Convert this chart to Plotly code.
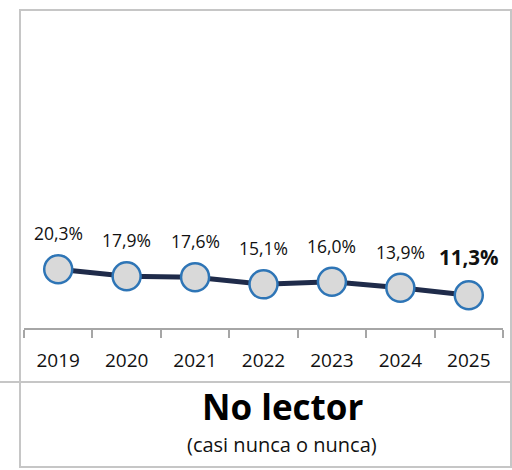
import plotly.graph_objects as go

years = ["2019", "2020", "2021", "2022", "2023", "2024", "2025"]
values = [20.3, 17.9, 17.6, 15.1, 16.0, 13.9, 11.3]
labels = ["20,3%", "17,9%", "17,6%", "15,1%", "16,0%", "13,9%", "11,3%"]
title_text = "No lector"
subtitle_text = "(casi nunca o nunca)"

W, H = 512, 470
FONT = "Open Sans"

def px(x):
    return x / W

def py(y):
    return 1 - y / H

fig = go.Figure()
fig.add_trace(go.Scatter(
    x=years, y=values, mode="lines+markers",
    line=dict(color="#1f2b4a", width=5),
    marker=dict(size=28, color="#d9d9d9", line=dict(color="#2e75b6", width=2.5)),
    hoverinfo="skip", showlegend=False,
))

for i, (v, lab) in enumerate(zip(values, labels)):
    last = i == len(values) - 1
    fig.add_annotation(
        x=i, y=v, xref="x", yref="y", text=f"<b>{lab}</b>" if last else lab,
        showarrow=False, yshift=36 if not last else 38,
        font=dict(family=FONT, size=20.5 if last else 17.5, color="#111111"),
    )

fig.add_annotation(x=px(282), y=py(406), xref="paper", yref="paper",
                   yanchor="middle", xanchor="center",
                   text=f"<b>{title_text}</b>", showarrow=False,
                   font=dict(family=FONT, size=35, color="#000000"))
fig.add_annotation(x=px(282), y=py(444), xref="paper", yref="paper",
                   yanchor="middle", xanchor="center",
                   text=subtitle_text, showarrow=False,
                   font=dict(family=FONT, size=20, color="#111111"))

border = "#c6c6c6"
fig.add_shape(type="rect", xref="paper", yref="paper",
              x0=px(20), x1=px(511), y0=py(467), y1=py(10),
              line=dict(color=border, width=2))
fig.add_shape(type="line", xref="paper", yref="paper",
              x0=0, x1=px(511), y0=py(382), y1=py(382),
              line=dict(color=border, width=2))

fig.update_layout(
    width=W, height=H,
    margin=dict(l=0, r=0, t=0, b=0),
    paper_bgcolor="white", plot_bgcolor="white",
    xaxis=dict(
        domain=[px(24), px(503)], type="category", tickson="boundaries",
        range=[-0.5, len(years) - 0.5], autorange=False,
        ticks="outside", ticklen=8, tickcolor="#a6a6a6", tickwidth=1.5,
        showline=True, linecolor="#a6a6a6", linewidth=1.5,
        showgrid=False, zeroline=False, tickangle=0,
        ticklabelstandoff=14,
        tickfont=dict(family=FONT, size=19, color="#111111"),
        fixedrange=True,
    ),
    yaxis=dict(
        domain=[py(328), py(39)], range=[0, 100], autorange=False, visible=False,
        showgrid=False, zeroline=False, fixedrange=True,
    ),
)

fig.write_html("out.html", config={"displayModeBar": False},
               post_script="document.body.style.margin='0';")
